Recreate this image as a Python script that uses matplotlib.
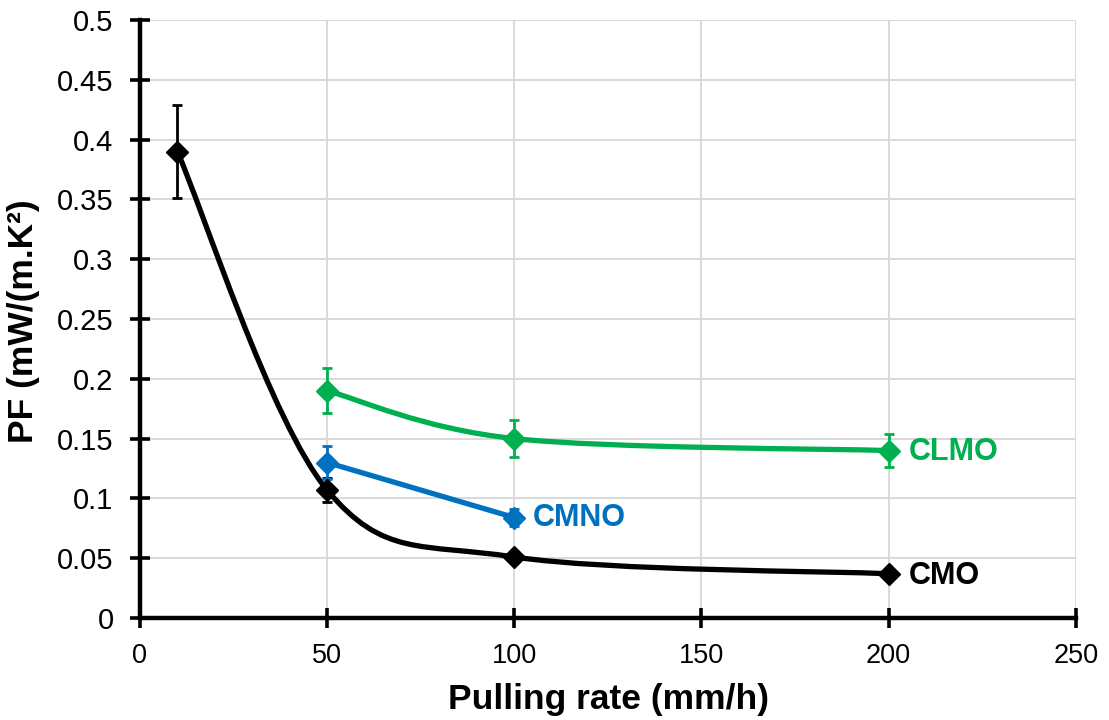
import matplotlib
matplotlib.use("Agg")
import matplotlib.pyplot as plt
from matplotlib.path import Path
from matplotlib.patches import PathPatch
import numpy as np

plt.rcParams['font.family'] = ['Liberation Sans', 'DejaVu Sans']

# Data
cmo_x = [10, 50, 100, 200]
cmo_y = [0.39, 0.107, 0.051, 0.037]
cmo_err = [0.039, 0.010, 0.004, 0.003]

cmno_x = [50, 100]
cmno_y = [0.130, 0.084]
cmno_err = [0.0135, 0.007]

clmo_x = [50, 100, 200]
clmo_y = [0.190, 0.150, 0.140]
clmo_err = [0.019, 0.0155, 0.014]

x_ticks = [0, 50, 100, 150, 200, 250]
y_ticks = [0, 0.05, 0.1, 0.15, 0.2, 0.25, 0.3, 0.35, 0.4, 0.45, 0.5]

BLACK = '#000000'
BLUE = '#0070C0'
GREEN = '#00B050'


def smooth_path(xs, ys):
    pts = np.column_stack([xs, ys]).astype(float)
    n = len(pts)
    verts = [pts[0]]
    codes = [Path.MOVETO]
    for i in range(n - 1):
        p0 = pts[i - 1] if i > 0 else pts[i]
        p1 = pts[i]
        p2 = pts[i + 1]
        p3 = pts[i + 2] if i + 2 < n else pts[i + 1]
        c1 = p1 + (p2 - p0) / 6.0
        c2 = p2 - (p3 - p1) / 6.0
        verts += [c1, c2, p2]
        codes += [Path.CURVE4] * 3
    return Path(verts, codes)


fig = plt.figure(figsize=(11.09, 7.2), dpi=100)
ax = fig.add_axes([0.1262, 0.1417, 0.8438, 0.8305])

for xs, ys, errs, col in [(cmo_x, cmo_y, cmo_err, BLACK),
                          (cmno_x, cmno_y, cmno_err, BLUE),
                          (clmo_x, clmo_y, clmo_err, GREEN)]:
    patch = PathPatch(smooth_path(xs, ys), facecolor='none', edgecolor=col,
                      lw=3.8, zorder=3, capstyle='round', joinstyle='round')
    ax.add_patch(patch)
    ax.errorbar(xs, ys, yerr=errs, fmt='D', color=col, ms=11, ecolor=col,
                elinewidth=2.0, capsize=3.8, capthick=2.0, zorder=4)

ax.text(205.5, 0.1385, 'CLMO', color=GREEN, fontsize=22, fontweight='bold',
        va='center', ha='left')
ax.text(105, 0.0835, 'CMNO', color=BLUE, fontsize=22, fontweight='bold',
        va='center', ha='left')
ax.text(205.5, 0.0355, 'CMO', color=BLACK, fontsize=22, fontweight='bold',
        va='center', ha='left')

ax.set_xlim(0, 250)
ax.set_ylim(0, 0.5)
ax.set_xticks(x_ticks)
ax.set_yticks(y_ticks)
ax.set_xticklabels([f"{v:g}" for v in x_ticks])
ax.set_yticklabels([f"{v:g}" for v in y_ticks])
ax.grid(True, color='#d9d9d9', lw=1.4, zorder=0)
ax.set_axisbelow(True)
for s in ['top', 'right']:
    ax.spines[s].set_visible(False)
for s in ['left', 'bottom']:
    ax.spines[s].set_linewidth(3.2)
ax.tick_params(axis='both', direction='inout', length=14, width=2.6,
               colors='black')
ax.tick_params(axis='y', labelsize=21, pad=12)
ax.tick_params(axis='x', labelsize=19.5, pad=11)
ax.set_xlabel('Pulling rate (mm/h)', fontsize=25.5, fontweight='bold')
ax.set_ylabel('PF (mW/(m.K²)', fontsize=25.5, fontweight='bold')
ax.xaxis.set_label_coords(0.501, -0.108)
ax.xaxis.label.set_va('top')
ax.yaxis.set_label_coords(-0.124, 0.497)
ax.yaxis.label.set_va('center')

fig.savefig('out.png', dpi=100)
